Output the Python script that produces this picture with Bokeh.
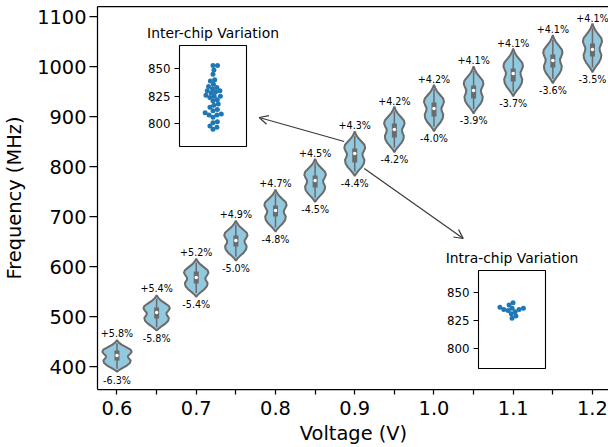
import numpy as np
from bokeh.plotting import figure
from bokeh.models import FixedTicker, Arrow, OpenHead, LinearAxis, ColumnDataSource
from bokeh.core.properties import value
from bokeh.embed import file_html
from bokeh.resources import INLINE

# ---------------- data ----------------
voltages = [0.6, 0.65, 0.7, 0.75, 0.8, 0.85, 0.9, 0.95, 1.0, 1.05, 1.1, 1.15, 1.2]
x_tick_labels = ["0.6", "", "0.7", "", "0.8", "", "0.9", "", "1.0", "", "1.1", "", "1.2"]
medians = [422, 508, 578, 652, 712, 772, 826, 874, 916, 952, 986, 1012, 1034]
q1 = [412, 496, 566, 640, 700, 758, 808, 858, 900, 936, 970, 998, 1020]
q3 = [432, 518, 590, 662, 722, 782, 836, 886, 928, 962, 996, 1024, 1046]
pct_up = [5.8, 5.4, 5.2, 4.9, 4.7, 4.5, 4.3, 4.2, 4.2, 4.1, 4.1, 4.1, 4.1]
pct_down = [6.3, 5.8, 5.4, 5.0, 4.8, 4.5, 4.4, 4.2, 4.0, 3.9, 3.7, 3.6, 3.5]
y_ticks = [400, 500, 600, 700, 800, 900, 1000, 1100]

# violin outline (relative half-width along the normalised height, bottom -> top)
violin_t = [0, .05, .12, .2, .28, .36, .44, .5, .56, .63, .7, .78, .86, .93, 1]
violin_w = [0, .12, .35, .65, .85, .9, .75, .72, .85, .97, .9, .6, .3, .12, 0]

inter_chip = [853, 853, 849, 845, 840, 839, 836, 834, 833,
              832, 830, 830, 829, 828, 826, 825, 825, 824,
              822, 821, 818, 817, 815, 813, 812, 810, 809,
              808, 808, 806, 802, 801, 798, 797, 795]
intra_chip = [841, 839, 837, 836, 836, 835, 835, 834, 833, 831, 829, 827]
inset_ticks = [800, 825, 850]

# ---------------- styling ----------------
FONT = value("DejaVu Sans")
FILL = "#93c9de"
GRAY = "#6b6b6b"
PX_PER_MHZ = 0.5
PX_PER_V = 791.7
AREA = 480.0

p = figure(frame_width=512, frame_height=383, x_range=(0.5754, 1.2215),
           y_range=(354, 1120), output_backend="svg", toolbar_location=None,
           min_border_left=96, min_border_right=0, min_border_top=6,
           min_border_bottom=58,
           styles={"position": "absolute", "left": "0px", "top": "0px"})
p.outline_line_color = None
p.grid.visible = False
p.background_fill_color = "white"
p.border_fill_color = "white"

xa = p.below[0]
ya = p.left[0]

top_axis = LinearAxis(ticker=FixedTicker(ticks=[]), major_tick_out=0, major_tick_in=0,
                      minor_tick_out=0, minor_tick_in=0,
                      major_label_text_font_size="0px", axis_line_width=1.25,
                      axis_line_color="black", major_label_standoff=0)
p.add_layout(top_axis, "above")

xa.ticker = FixedTicker(ticks=voltages)
xa.major_label_overrides = {v: s for v, s in zip(voltages, x_tick_labels)}
xa.axis_label = "Voltage (V)"
ya.ticker = FixedTicker(ticks=y_ticks)
ya.axis_label = "Frequency (MHz)"
for ax in (xa, ya):
    ax.minor_tick_line_color = None
    ax.major_tick_in = 0
    ax.axis_line_width = 1.25
    ax.major_tick_line_width = 1.25
    ax.major_label_text_font = "DejaVu Sans"
    ax.major_label_text_font_size = "19.4px"
    ax.major_label_text_color = "black"
    ax.axis_label_text_font = "DejaVu Sans"
    ax.axis_label_text_font_size = "19.4px"
    ax.axis_label_text_font_style = "normal"
    ax.axis_label_text_color = "black"
xa.major_tick_out = 5
xa.major_label_standoff = 6
xa.axis_label_standoff = 4
ya.major_tick_out = 8
ya.major_label_standoff = 3
ya.axis_label_standoff = 8

# violins
vxs, vys, vmins, vmaxs = [], [], [], []
t = np.array(violin_t)
w = np.array(violin_w)
for v, m, u, d in zip(voltages, medians, pct_up, pct_down):
    vmax = m * (1 + u / 100)
    vmin = m * (1 - d / 100)
    ext = 0.12 * (vmax - vmin)
    lo, hi = vmin - ext, vmax + ext
    hw = AREA / ((hi - lo) * PX_PER_MHZ) / PX_PER_V
    ys = lo + t * (hi - lo)
    vxs.append(list(v + hw * w) + list(v - hw * w[::-1]))
    vys.append(list(ys) + list(ys[::-1]))
    vmins.append(vmin)
    vmaxs.append(vmax)

p.patches(vxs, vys, fill_color=FILL, line_color=GRAY, line_width=2)

src = ColumnDataSource(dict(
    x=voltages, med=medians, q1=q1, q3=q3, lo=vmins, hi=vmaxs,
    up=["+%.1f%%" % u for u in pct_up], down=["-%.1f%%" % d for d in pct_down]))
p.segment(x0="x", y0="lo", x1="x", y1="hi", source=src, line_color=GRAY, line_width=1.5)
p.segment(x0="x", y0="q1", x1="x", y1="q3", source=src, line_color=GRAY, line_width=5,
          line_cap="butt")
p.scatter(x="x", y="med", source=src, size=3.5, fill_color="white", line_color=None)
p.text(x="x", y="hi", text="up", source=src, text_align="center", text_baseline="middle",
       y_offset=-10, text_font=FONT, text_font_size="9.6px", text_color="black")
p.text(x="x", y="lo", text="down", source=src, text_align="center", text_baseline="middle",
       y_offset=11.5, text_font=FONT, text_font_size="9.6px", text_color="black")

# arrows
ARROW_COLOR = "#3a3a3a"
p.add_layout(Arrow(end=OpenHead(size=9, line_color=ARROW_COLOR, line_width=1.2),
                   x_start=0.8867, y_start=850, x_end=0.7794, y_end=898,
                   line_color=ARROW_COLOR, line_width=1.2))
p.add_layout(Arrow(end=OpenHead(size=9, line_color=ARROW_COLOR, line_width=1.2),
                   x_start=0.912, y_start=796, x_end=1.037, y_end=656,
                   line_color=ARROW_COLOR, line_width=1.2))


def swarm_offsets(vals, px_per_y, d):
    vals = np.asarray(vals, dtype=float)
    order = np.argsort(vals, kind="stable")
    placed = []
    xs = np.zeros(len(vals))
    for i in order:
        y = vals[i] * px_per_y
        cands = [0.0]
        for (px, py) in placed:
            dy = abs(py - y)
            if dy < d:
                dx = np.sqrt(d * d - dy * dy)
                cands += [px + dx, px - dx]
        cands.sort(key=abs)
        for c in cands:
            if all((c - px) ** 2 + (y - py) ** 2 >= d * d - 1e-6 for px, py in placed):
                xs[i] = c
                placed.append((c, y))
                break
    return xs


def make_inset(vals, title, ylo, yhi, fh, frame_left, frame_top):
    FW = 67
    LB, TB = 75, 32
    f = figure(frame_width=FW, frame_height=fh, x_range=(-0.5, 0.5), y_range=(ylo, yhi),
               output_backend="svg", toolbar_location=None,
               min_border_left=LB, min_border_right=75, min_border_top=TB,
               min_border_bottom=2, title=title,
               styles={"position": "absolute", "left": "%dpx" % (frame_left - LB),
                       "top": "%dpx" % (frame_top - TB)})
    f.border_fill_color = None
    f.border_fill_alpha = 0
    f.background_fill_color = "white"
    f.outline_line_color = "black"
    f.outline_line_width = 1.1
    f.grid.visible = False
    f.xaxis.visible = False
    f.title.align = "center"
    f.title.text_font = "DejaVu Sans"
    f.title.text_font_size = "13.9px"
    f.title.text_font_style = "normal"
    f.title.text_color = "black"
    f.title.standoff = 9
    ay = f.yaxis[0]
    ay.ticker = FixedTicker(ticks=inset_ticks)
    ay.axis_line_color = None
    ay.minor_tick_line_color = None
    ay.major_tick_in = 0
    ay.major_tick_out = 5
    ay.major_label_standoff = 4
    ay.major_label_text_font = "DejaVu Sans"
    ay.major_label_text_font_size = "11.8px"
    ay.major_label_text_color = "black"
    pxy = fh / (yhi - ylo)
    offs = swarm_offsets(vals, pxy, 4.5) / FW
    f.scatter(x=list(offs), y=vals, size=5, fill_color="#1f77b4", line_color=None)
    return f


inset1 = make_inset(inter_chip, "Inter-chip Variation", 779.4, 871.2, 101, 179, 45)
inset2 = make_inset(intra_chip, "Intra-chip Variation", 781.7, 870.1, 98, 478, 270)

open("out.html", "w").write(file_html([p, inset1, inset2], INLINE))
